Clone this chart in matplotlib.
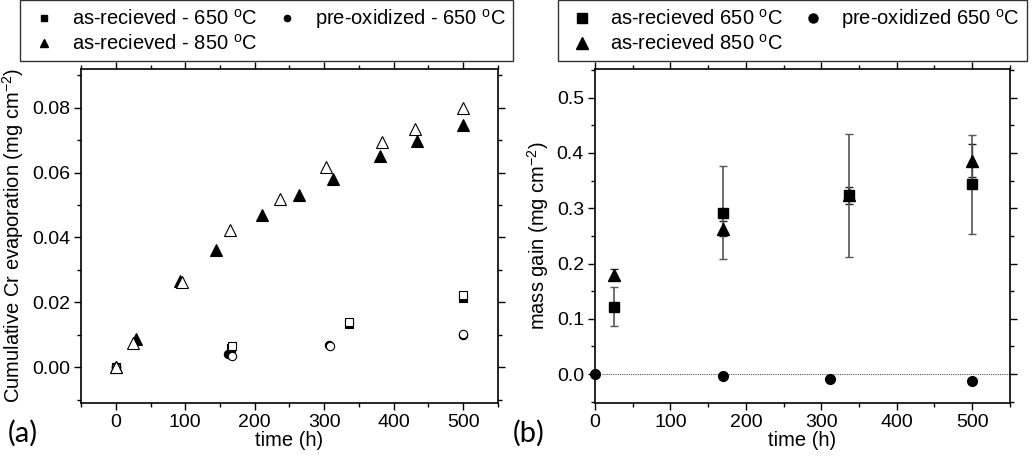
import matplotlib
matplotlib.use('Agg')
import matplotlib.pyplot as plt
from matplotlib.lines import Line2D
from matplotlib.ticker import MultipleLocator

plt.rcParams['font.family'] = ['Liberation Sans', 'DejaVu Sans']
plt.rcParams['mathtext.default'] = 'regular'

# ---- (a) cumulative Cr evaporation, two measurements per condition
# filled = run 1, open = run 2
t850_fill = [0, 29, 92, 144, 211, 264, 312, 380, 433, 500]
cr850_fill = [0.0, 0.0088, 0.0266, 0.0362, 0.0469, 0.0531, 0.0580, 0.0650, 0.0698, 0.0748]
t850_open = [0, 25, 96, 164, 237, 303, 383, 430, 500]
cr850_open = [0.0, 0.0074, 0.0264, 0.0423, 0.0520, 0.0617, 0.0693, 0.0735, 0.0799]

t650_fill = [0, 166, 335, 500]
cr650_fill = [0.0, 0.0058, 0.0132, 0.0214]
t650_open = [0, 167, 336, 500]
cr650_open = [0.0, 0.0064, 0.0138, 0.0223]

tpre_fill = [0, 162, 307, 500]
crpre_fill = [0.0, 0.0040, 0.0069, 0.0100]
tpre_open = [0, 167, 308, 500]
crpre_open = [0.0, 0.0033, 0.0066, 0.0102]

# ---- (b) mass gain with error bars
t_sq = [25, 169, 337, 500]
mg_sq = [0.122, 0.292, 0.323, 0.343]
err_sq = [0.035, 0.084, 0.111, 0.090]
t_tri = [25, 169, 337, 500]
mg_tri = [0.180, 0.263, 0.323, 0.386]
err_tri = [0.010, 0.014, 0.015, 0.030]
t_circ = [0, 169, 312, 500]
mg_circ = [0.0, -0.004, -0.009, -0.012]

lab_a = ['as-recieved - 650 $^o$C', 'as-recieved - 850 $^o$C', 'pre-oxidized - 650 $^o$C']
lab_b = ['as-recieved 650 $^o$C', 'as-recieved 850 $^o$C', 'pre-oxidized 650 $^o$C']

FS = 14.5

fig = plt.figure(figsize=(10.32, 4.62), dpi=100)
ax1 = fig.add_axes([0.0785, 0.128, 0.404, 0.723])
ax2 = fig.add_axes([0.5766, 0.128, 0.402, 0.723])


def style(ax):
    ax.tick_params(which='both', direction='out', top=True, right=True,
                   labelsize=14, width=1, pad=3)
    ax.tick_params(which='major', length=5)
    ax.tick_params(which='minor', length=3)
    for s in ax.spines.values():
        s.set_linewidth(1.2)


k = dict(linestyle='none', color='black', mec='black', mew=0.8)
ax1.plot(t650_open, cr650_open, marker='s', ms=6, mfc='white', **k)
ax1.plot(t650_fill, cr650_fill, marker='s', ms=6, mfc='black', zorder=1, **k)
ax1.plot(tpre_fill, crpre_fill, marker='o', ms=6, mfc='black', zorder=1, **k)
ax1.plot(tpre_open, crpre_open, marker='o', ms=6, mfc='white', **k)
ax1.plot(t850_fill, cr850_fill, marker='^', ms=8, mfc='black', **k)
ax1.plot(t850_open, cr850_open, marker='^', ms=8, mfc='white', **k)
ax1.set_xlim(-50, 550)
ax1.set_ylim(-0.011, 0.092)
ax1.xaxis.set_major_locator(MultipleLocator(100))
ax1.xaxis.set_minor_locator(MultipleLocator(50))
ax1.yaxis.set_major_locator(MultipleLocator(0.02))
ax1.yaxis.set_minor_locator(MultipleLocator(0.01))
ax1.yaxis.set_major_formatter(plt.FormatStrFormatter('%.2f'))
style(ax1)
ax1.set_xlabel('time (h)', fontsize=FS, labelpad=0)
ax1.set_ylabel('Cumulative Cr evaporation (mg cm$^{-2}$)', fontsize=FS, labelpad=4)

ax2.axhline(0, color='#555555', lw=0.8, ls=(0, (1, 1)), zorder=0)
ax2.errorbar(t_tri, mg_tri, yerr=err_tri, fmt='^', ms=9, color='black',
             ecolor='#222222', elinewidth=1, capsize=3, capthick=1)
ax2.errorbar(t_sq, mg_sq, yerr=err_sq, fmt='s', ms=7, color='black',
             ecolor='#555555', elinewidth=1.2, capsize=3, capthick=1)
ax2.plot(t_circ, mg_circ, marker='o', ms=7, linestyle='none', color='black', clip_on=False)
ax2.set_xlim(0, 550)
ax2.set_ylim(-0.052, 0.552)
ax2.xaxis.set_major_locator(MultipleLocator(100))
ax2.xaxis.set_minor_locator(MultipleLocator(50))
ax2.yaxis.set_major_locator(MultipleLocator(0.1))
ax2.yaxis.set_minor_locator(MultipleLocator(0.05))
ax2.yaxis.set_major_formatter(plt.FormatStrFormatter('%.1f'))
style(ax2)
ax2.set_xlabel('time (h)', fontsize=FS, labelpad=0)
ax2.set_ylabel('mass gain (mg cm$^{-2}$)', fontsize=FS, labelpad=4)


# legends above each panel
def handles(ms_sq, ms_tri, ms_c):
    return [Line2D([], [], marker='s', ms=ms_sq, color='black', ls='none'),
            Line2D([], [], marker='^', ms=ms_tri, color='black', ls='none'),
            Line2D([], [], marker='o', ms=ms_c, color='black', ls='none')]


lk = dict(ncol=2, fontsize=FS, frameon=True, fancybox=False, edgecolor='black',
          borderpad=0.35, handletextpad=0.55, columnspacing=0.6, labelspacing=0.25,
          handlelength=1.7, borderaxespad=0)
leg1 = fig.legend(handles(4.5, 5.5, 4.5), lab_a, loc='upper left',
                  bbox_to_anchor=(20 / 1032, 1.0), **lk)
leg2 = fig.legend(handles(7, 8, 6.5), lab_b, loc='upper left',
                  bbox_to_anchor=(558 / 1032, 1.0), **lk)
for lg in (leg1, leg2):
    lg.get_frame().set_linewidth(1)

fig.text(8 / 1032, 1 - 433 / 462, '(a)', fontsize=21, family='Lato', va='center')
fig.text(513 / 1032, 1 - 433 / 462, '(b)', fontsize=21, family='Lato', va='center')

fig.savefig('out.png', dpi=100)
